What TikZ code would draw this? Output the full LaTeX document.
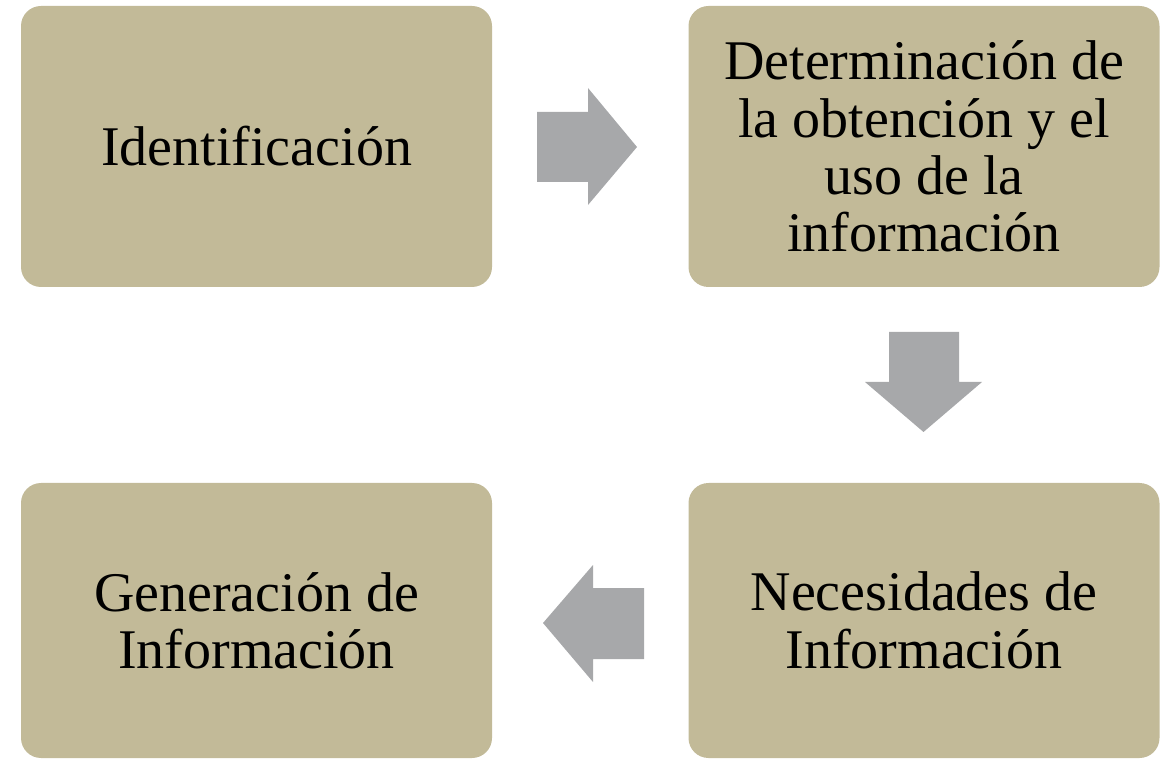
\documentclass[tikz,border=0pt]{standalone}
\usepackage{fontspec}
\setmainfont{Liberation Serif}
\definecolor{boxtan}{HTML}{C2BA98}
\definecolor{arrowgrey}{HTML}{A7A8AA}
\tikzset{
  every picture/.style={font={\fontsize{42}{43}\selectfont}}}

\begin{document}
\begin{tikzpicture}[x=0.75pt, y=-0.75pt,
    stepbox/.style={
      fill=boxtan,
      rounded corners=15pt,
      align=center,
      inner sep=0pt,
      minimum width=353.25pt},
    upperbox/.style={stepbox, minimum height=210.75pt},
    lowerbox/.style={stepbox, minimum height=206.25pt},
    blockarrow/.style={fill=arrowgrey}]

    \useasboundingbox (0,0) rectangle (1165,759);

    \node[upperbox] (ident) at (256.5,146.5) {Identificaci\'on};
    \node[upperbox] (determ) at (924,146.5)
      {Determinaci\'on de\\la obtenci\'on y el\\uso de la\\informaci\'on};
    \node[lowerbox] (necesid) at (924,620.5) {Necesidades de\\Informaci\'on};
    \node[lowerbox] (generac) at (256.5,620.5) {Generaci\'on de\\Informaci\'on};

    % block arrows between the steps
    \fill[blockarrow] (537,112) -- (588,112) -- (588,88) -- (637,147)
      -- (588,205) -- (588,182) -- (537,182) -- cycle;
    \fill[blockarrow] (889,332) -- (959,332) -- (959,382) -- (982,382)
      -- (923.5,432) -- (865,382) -- (889,382) -- cycle;
    \fill[blockarrow] (644,588) -- (593,588) -- (593,565) -- (543,623)
      -- (593,682) -- (593,659) -- (644,659) -- cycle;
\end{tikzpicture}
\end{document}
